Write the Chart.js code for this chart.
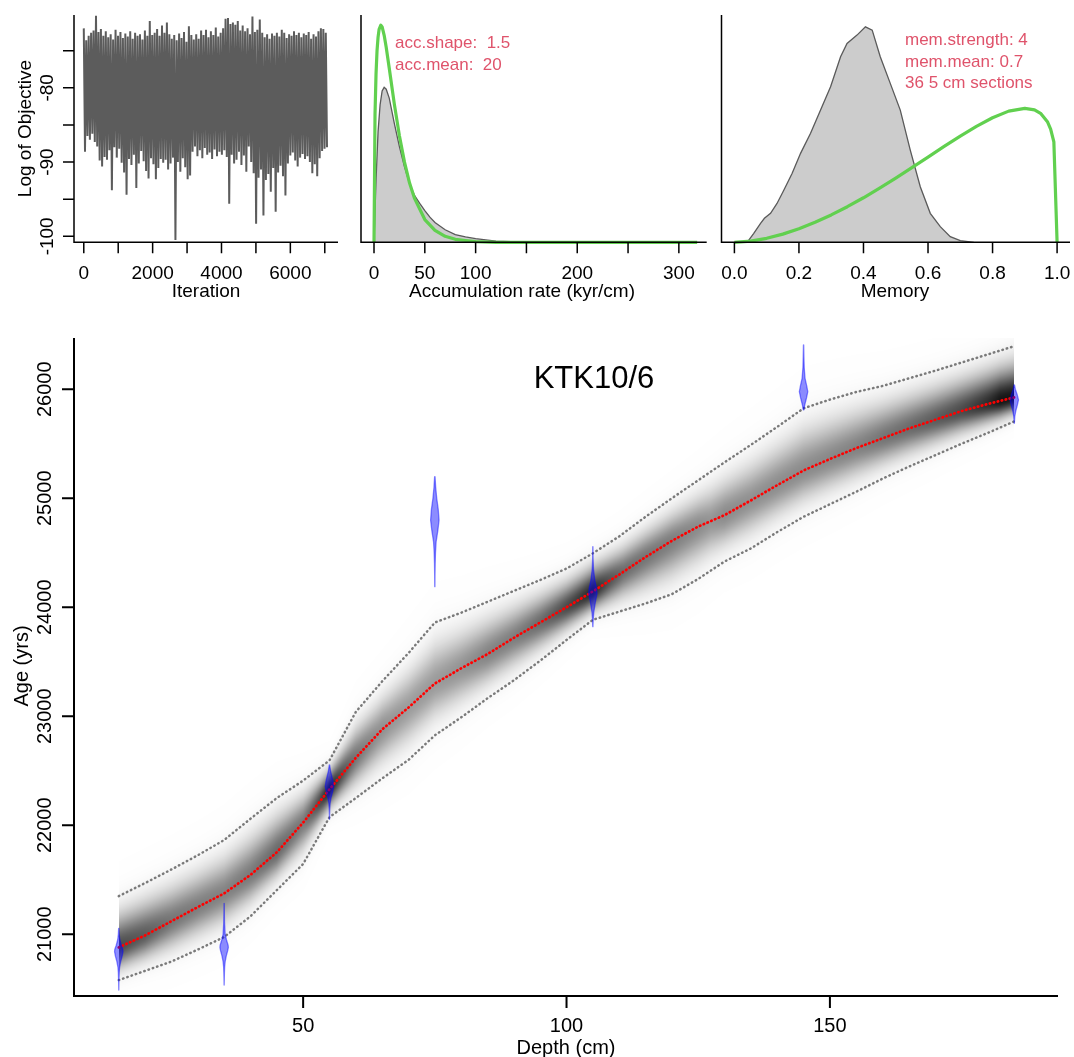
<!DOCTYPE html>
<html><head><meta charset="utf-8">
<script src="https://cdn.jsdelivr.net/npm/chart.js@4.4.0/dist/chart.umd.min.js"></script>
<style>
html,body{margin:0;padding:0;background:#fff;}
#wrap{position:relative;width:1074px;height:1057px;overflow:hidden;background:#fff;}
canvas{position:absolute;left:0;top:0;}
</style></head><body>
<div id="wrap">
<canvas id="c1" width="1074" height="1057"></canvas>
<canvas id="c2" width="1074" height="1057"></canvas>
<canvas id="c3" width="1074" height="1057"></canvas>
<canvas id="c4" width="1074" height="1057"></canvas>
</div>
<script>
// ---------------- DATA ----------------
// MCMC trace (per bin of iterations: highest and lowest log objective)
const traceStep = 71;
const traceHi = [-72.0,-73.6,-73.0,-72.6,-72.3,-70.3,-72.5,-72.1,-73.0,-72.4,
 -73.2,-72.8,-73.5,-72.2,-73.0,-72.5,-73.3,-72.7,-73.1,-72.4,
 -73.4,-72.6,-73.0,-72.8,-73.5,-72.3,-73.0,-71.0,-72.9,-72.6,
 -72.1,-73.0,-71.6,-72.6,-71.2,-72.8,-73.4,-72.9,-73.6,-72.7,
 -73.3,-72.5,-73.8,-71.7,-72.9,-73.5,-72.8,-73.4,-72.3,-72.9,
 -72.2,-73.2,-72.4,-72.9,-71.9,-73.1,-72.6,-72.0,-70.7,-70.6,
 -71.4,-71.2,-71.5,-71.0,-72.3,-71.6,-72.4,-72.0,-72.8,-70.4,
 -72.5,-72.2,-70.8,-72.6,-73.2,-72.8,-73.4,-72.7,-73.0,-72.6,
 -73.1,-72.2,-72.6,-73.3,-72.8,-73.0,-72.4,-72.9,-72.6,-73.2,
 -72.7,-72.9,-72.5,-73.4,-72.8,-73.1,-72.4,-72.0,-72.1,-72.6];
const traceLo = [-88.6,-86.5,-87.0,-86.2,-87.3,-87.9,-89.8,-90.6,-89.3,-89.7,
 -88.4,-93.8,-88.0,-89.4,-88.2,-90.1,-91.4,-94.4,-89.6,-90.4,
 -89.0,-93.5,-90.2,-88.5,-89.9,-91.2,-92.2,-89.5,-90.3,-92.3,
 -90.8,-89.6,-90.1,-89.7,-91.0,-90.2,-89.4,-100.5,-90.0,-91.3,
 -89.5,-90.7,-92.3,-91.8,-88.6,-87.9,-89.2,-88.4,-89.5,-88.1,
 -89.0,-88.7,-89.6,-88.3,-89.2,-88.6,-89.0,-88.4,-89.3,-95.6,
 -89.0,-90.2,-89.7,-88.6,-90.4,-89.1,-91.3,-87.9,-90.0,-91.5,
 -98.3,-92.1,-91.0,-97.2,-92.4,-91.6,-94.0,-90.8,-96.7,-91.4,
 -90.5,-91.9,-94.5,-90.2,-89.1,-88.7,-89.8,-90.6,-89.4,-88.9,
 -89.6,-89.2,-90.0,-91.5,-90.3,-91.9,-89.5,-88.5,-88.2,-88.0];

// Accumulation rate: posterior (grey) and prior (green)
const accPostX = [0,2,4,6,8,10,12,15,20,25,30,35,40,45,50,55,60,70,80,90,100,110,120,135,150];
const accPostY = [0,0.0105,0.0185,0.0230,0.0253,0.0259,0.0256,0.0241,0.0199,0.0160,0.0126,0.0098,0.0078,0.0065,0.0053,0.0042,0.0033,0.0021,0.0013,0.0009,0.0006,0.0004,0.0002,0.0001,0];
const accPriorX = [0,1,2,3,4,5,6.7,8,10,12,15,20,25,30,35,40,50,60,70,80,90,100,120,150,200,250,318];
const accPriorY = [0,0.0215,0.0282,0.0321,0.0343,0.0356,0.0363,0.0360,0.0346,0.0326,0.0291,0.0231,0.0178,0.0134,0.0099,0.0073,0.0038,0.0020,0.0010,0.0005,0.0003,0.0001,0,0,0,0,0];

// Memory: posterior (grey) and prior (green)
const memPostX = [0.044,0.060,0.081,0.093,0.112,0.132,0.153,0.179,0.205,0.236,0.267,0.298,0.329,0.349,0.380,0.406,0.427,0.452,0.483,0.514,0.545,0.576,0.607,0.638,0.669,0.700,0.742];
const memPostY = [0.03,0.137,0.288,0.364,0.44,0.59,0.79,1.047,1.35,1.654,2.007,2.36,2.816,3.019,3.145,3.271,3.221,2.816,2.412,2.007,1.40,0.844,0.44,0.237,0.085,0.024,0];
const memPriorX = [0,0.05,0.1,0.15,0.2,0.25,0.3,0.35,0.4,0.45,0.5,0.55,0.6,0.65,0.7,0.75,0.8,0.85,0.9,0.93,0.95,0.97,0.98,0.99,1.0];
const memPriorY = [0,0.0175,0.0604,0.124,0.2057,0.3035,0.4155,0.540,0.676,0.8215,0.974,1.133,1.294,1.455,1.612,1.760,1.890,1.991,2.033,2.010,1.952,1.830,1.718,1.523,0];

// Age-depth model
const depths   = [15,20,25,30,35,40,45,50,55,60,65,70,75,80,85,90,95,100,105,110,115,120,125,130,135,140,145,150,155,160,165,170,175,180,185];
const meanAge  = [20880,20990,21120,21250,21375,21545,21752,22025,22330,22620,22880,23080,23300,23440,23570,23720,23860,24000,24145,24300,24460,24610,24740,24845,24980,25120,25255,25360,25460,25550,25640,25720,25800,25865,25925];
const upperAge = [21350,21470,21595,21725,21865,22060,22250,22410,22595,23040,23320,23580,23860,23950,24050,24150,24250,24355,24495,24650,24830,25000,25165,25330,25490,25655,25825,25905,25975,26030,26100,26170,26245,26320,26395];
const lowerAge = [20580,20665,20750,20860,20975,21165,21405,21645,22075,22250,22430,22600,22825,22990,23165,23330,23510,23700,23885,23960,24035,24120,24260,24420,24540,24690,24830,24945,25060,25180,25290,25395,25500,25600,25705];

// Dated levels: calibrated age distributions
const dateDepths = [15,35,55,75,105,145,185];
const dateAges = [
 [21055,21000,20950,20900,20860,20840,20800,20750,20700,20650,20600,20550,20489],
 [21284,21200,21100,21000,20950,20900,20880,20850,20800,20750,20700,20650,20600,20535],
 [22553,22500,22450,22400,22354,22300,22250,22200,22150,22100,22055],
 [25198,25100,25000,24900,24800,24700,24600,24500,24400,24300,24189],
 [24556,24450,24350,24250,24180,24128,24050,23950,23880,23822],
 [26406,26300,26200,26100,26030,25978,25920,25860,25810],
 [26039,26000,25950,25902,25850,25800,25750,25688]
];
const dateProbs = [
 [0.03,0.1,0.25,0.6,0.95,1,0.8,0.45,0.2,0.1,0.06,0.03,0.01],
 [0.02,0.05,0.1,0.25,0.55,0.95,1,0.85,0.5,0.25,0.12,0.07,0.04,0.01],
 [0.05,0.25,0.55,0.85,1,0.7,0.35,0.15,0.07,0.03,0.01],
 [0.05,0.2,0.45,0.8,1,0.7,0.3,0.15,0.08,0.04,0.02],
 [0.02,0.05,0.15,0.45,0.85,1,0.6,0.2,0.07,0.02],
 [0.03,0.08,0.15,0.35,0.75,1,0.7,0.3,0.05],
 [0.05,0.25,0.7,1,0.7,0.35,0.12,0.02]
];

const coreName = 'KTK10/6';
const accText = ['acc.shape:  1.5', 'acc.mean:  20'];
const memText = ['mem.strength: 4', 'mem.mean: 0.7', '36 5 cm sections'];

// ---------------- RENDERING ----------------
const PW = 1074, PH = 1057;
const FONT = '"Liberation Sans", Arial, Helvetica, sans-serif';
const RED = '#DF536B', GREEN = '#61D04F';
const pts = (xs, ys) => xs.map((x, i) => ({x: x, y: ys[i]}));

function axisPlugin(cfg) {
  return {
    id: 'axes' + cfg.id,
    afterDraw(chart) {
      const ctx = chart.ctx, a = chart.chartArea, xs = chart.scales.x, ys = chart.scales.y;
      ctx.save();
      ctx.strokeStyle = '#000'; ctx.fillStyle = '#000';
      ctx.lineWidth = cfg.lw; ctx.lineCap = 'butt';
      ctx.beginPath();
      ctx.moveTo(a.left, a.top); ctx.lineTo(a.left, a.bottom); ctx.lineTo(a.right, a.bottom);
      ctx.stroke();
      ctx.beginPath();
      cfg.xTicks.forEach(v => { const p = xs.getPixelForValue(v); ctx.moveTo(p, a.bottom); ctx.lineTo(p, a.bottom + cfg.tick); });
      (cfg.yTicks || []).forEach(v => { const p = ys.getPixelForValue(v); ctx.moveTo(a.left, p); ctx.lineTo(a.left - cfg.tick, p); });
      ctx.stroke();
      ctx.font = cfg.font;
      ctx.textAlign = 'center'; ctx.textBaseline = 'middle';
      cfg.xLabels.forEach(v => ctx.fillText(cfg.fmtX(v), xs.getPixelForValue(v), cfg.xLabY));
      (cfg.yLabels || []).forEach(v => {
        const p = ys.getPixelForValue(v);
        ctx.save(); ctx.translate(cfg.yLabX, p); ctx.rotate(-Math.PI / 2);
        ctx.fillText(cfg.fmtY(v), 0, 0); ctx.restore();
      });
      ctx.textBaseline = 'alphabetic';
      ctx.fillText(cfg.xTitle, cfg.xTitleX, cfg.xTitleY);
      if (cfg.yTitle) {
        ctx.save(); ctx.translate(cfg.yTitleX, cfg.yTitleY); ctx.rotate(-Math.PI / 2);
        ctx.textBaseline = 'middle'; ctx.fillText(cfg.yTitle, 0, 0); ctx.restore();
      }
      ctx.restore();
    }
  };
}

function textPlugin(id, lines, x, ys, font, color, align) {
  return {
    id: 'txt' + id,
    afterDraw(chart) {
      const ctx = chart.ctx;
      ctx.save(); ctx.font = font; ctx.fillStyle = color; ctx.textAlign = align || 'left'; ctx.textBaseline = 'alphabetic';
      lines.forEach((t, i) => ctx.fillText(t, x, ys[i]));
      ctx.restore();
    }
  };
}

function makeChart(id, box, xr, yr, datasets, plugins) {
  return new Chart(document.getElementById(id), {
    type: 'line',
    data: { datasets: datasets },
    options: {
      responsive: false, maintainAspectRatio: false, animation: false, devicePixelRatio: 1,
      events: [],
      layout: { padding: { left: box.l, top: box.t, right: PW - box.r, bottom: PH - box.b } },
      scales: {
        x: { type: 'linear', display: false, min: xr[0], max: xr[1] },
        y: { type: 'linear', display: false, min: yr[0], max: yr[1] }
      },
      elements: { point: { radius: 0 }, line: { tension: 0 } },
      plugins: { legend: { display: false }, tooltip: { enabled: false } }
    },
    plugins: plugins
  });
}

const topFont = '19px ' + FONT;

// Panel 1: trace
const tracePts = [];
traceHi.forEach((h, i) => {
  tracePts.push({x: i * traceStep, y: h});
  tracePts.push({x: i * traceStep + traceStep / 2, y: traceLo[i]});
});
makeChart('c1', {l: 74, t: 15, r: 338, b: 242.3}, [-284, 7384], [-100.8, -70.2], [
  { data: tracePts, borderColor: '#5c5c5c', borderWidth: 2, pointRadius: 0, fill: false, clip: false, borderJoinStyle: 'miter' }
], [axisPlugin({ id: 1, lw: 1.5, tick: 11, font: topFont,
  xTicks: [0,1000,2000,3000,4000,5000,6000,7000], xLabels: [0,2000,4000,6000], fmtX: v => String(v), xLabY: 274,
  yTicks: [-100,-95,-90,-85,-80,-75], yLabels: [-100,-90,-80], fmtY: v => String(v), yLabX: 47.5,
  xTitle: 'Iteration', xTitleX: 206, xTitleY: 297,
  yTitle: 'Log of Objective', yTitleX: 26, yTitleY: 128.5 })]);

// Panel 2: accumulation rate
makeChart('c2', {l: 361, t: 15, r: 706.7, b: 242.3}, [-12.8, 327.4], [0, 0.038], [
  { data: pts(accPriorX, accPriorY), borderColor: GREEN, borderWidth: 3.2, fill: false, order: 1, clip: false, borderJoinStyle: 'round' },
  { data: pts(accPostX, accPostY), borderColor: '#5a5a5a', borderWidth: 1.3, backgroundColor: '#cccccc', fill: 'origin', order: 2, clip: false }
], [axisPlugin({ id: 2, lw: 1.5, tick: 11, font: topFont,
  xTicks: [0,50,100,150,200,250,300], xLabels: [0,50,100,200,300], fmtX: v => String(v), xLabY: 274,
  xTitle: 'Accumulation rate (kyr/cm)', xTitleX: 522, xTitleY: 297 }),
  textPlugin(2, accText, 395, [48, 70], '17px ' + FONT, RED)]);

// Panel 3: memory
makeChart('c3', {l: 721.5, t: 15, r: 1070, b: 242.3}, [-0.04, 1.04], [0, 3.45], [
  { data: pts(memPriorX, memPriorY), borderColor: GREEN, borderWidth: 3.2, fill: false, order: 1, clip: false, borderJoinStyle: 'round' },
  { data: pts(memPostX, memPostY), borderColor: '#5a5a5a', borderWidth: 1.3, backgroundColor: '#cccccc', fill: 'origin', order: 2, clip: false }
], [axisPlugin({ id: 3, lw: 1.5, tick: 11, font: topFont,
  xTicks: [0,0.2,0.4,0.6,0.8,1.0], xLabels: [0,0.2,0.4,0.6,0.8,1.0], fmtX: v => v.toFixed(1), xLabY: 274,
  xTitle: 'Memory', xTitleX: 895, xTitleY: 297 }),
  textPlugin(3, memText, 905, [45, 66.5, 88], '17px ' + FONT, RED)]);

// Panel 4: age-depth model
function interp(xa, ya, x) {
  if (x <= xa[0]) return ya[0];
  for (let i = 1; i < xa.length; i++) {
    if (x <= xa[i]) { const t = (x - xa[i-1]) / (xa[i] - xa[i-1]); return ya[i-1] + t * (ya[i] - ya[i-1]); }
  }
  return ya[ya.length - 1];
}

const cloudPlugin = {
  id: 'cloud',
  beforeDatasetsDraw(chart) {
    const ctx = chart.ctx, a = chart.chartArea, xs = chart.scales.x, ys = chart.scales.y;
    const x0 = Math.round(xs.getPixelForValue(depths[0]));
    const x1 = Math.round(xs.getPixelForValue(depths[depths.length - 1]));
    const top = Math.round(a.top), bot = Math.round(a.bottom);
    const w = x1 - x0, h = bot - top;
    const off = document.createElement('canvas'); off.width = w; off.height = h;
    const octx = off.getContext('2d');
    const img = octx.createImageData(w, h);
    const rowAge = [];
    for (let j = 0; j < h; j++) rowAge.push(ys.getValueForPixel(top + j + 0.5));
    for (let i = 0; i < w; i++) {
      const d = xs.getValueForPixel(x0 + i + 0.5);
      const m = interp(depths, meanAge, d), hi = interp(depths, upperAge, d), lo = interp(depths, lowerAge, d);
      const sdU = (hi - m) / 2.45, sdL = (m - lo) / 2.45;
      const minHalf = Math.min(hi - m, m - lo);
      const dark = Math.min(0.9, Math.pow(225 / minHalf, 1.3));
      for (let j = 0; j < h; j++) {
        const ag = rowAge[j];
        const z = ag > m ? (ag - m) / sdU : (m - ag) / sdL;
        if (z > 4.5) continue;
        const v = dark * Math.exp(-0.5 * z * z) + 0.015 * Math.exp(-0.5 * z * z / 4);
        const k = (j * w + i) * 4;
        img.data[k] = 0; img.data[k+1] = 0; img.data[k+2] = 0; img.data[k+3] = Math.round(255 * Math.min(1, v));
      }
    }
    octx.putImageData(img, 0, 0);
    ctx.drawImage(off, x0, top);
  }
};

const VIOLIN_HALF = 0.8; // half width (cm) at peak density
const violinPlugin = {
  id: 'violins',
  afterDatasetsDraw(chart) {
    const ctx = chart.ctx, xs = chart.scales.x, ys = chart.scales.y;
    ctx.save();
    ctx.fillStyle = 'rgba(0,0,255,0.45)';
    ctx.strokeStyle = 'rgba(0,0,255,0.45)';
    ctx.lineWidth = 1.3; ctx.lineJoin = 'round';
    dateDepths.forEach((dp, k) => {
      const ages = dateAges[k], pr = dateProbs[k];
      ctx.beginPath();
      ages.forEach((ag, i) => {
        const x = xs.getPixelForValue(dp + pr[i] * VIOLIN_HALF), y = ys.getPixelForValue(ag);
        if (i === 0) ctx.moveTo(x, y); else ctx.lineTo(x, y);
      });
      for (let i = ages.length - 1; i >= 0; i--) {
        ctx.lineTo(xs.getPixelForValue(dp - pr[i] * VIOLIN_HALF), ys.getPixelForValue(ages[i]));
      }
      ctx.closePath(); ctx.fill(); ctx.stroke();
    });
    ctx.restore();
  }
};

makeChart('c4', {l: 74, t: 338, r: 1058, b: 996}, [6.5, 193.3], [20434, 26470], [
  { data: pts(depths, meanAge), borderColor: '#ff0000', borderWidth: 2.7, borderDash: [0.5, 3.6], borderCapStyle: 'round', fill: false, order: 1 },
  { data: pts(depths, upperAge), borderColor: '#7a7a7a', borderWidth: 2.5, borderDash: [0.5, 4.0], borderCapStyle: 'round', fill: false, order: 2 },
  { data: pts(depths, lowerAge), borderColor: '#7a7a7a', borderWidth: 2.5, borderDash: [0.5, 4.0], borderCapStyle: 'round', fill: false, order: 3 }
], [cloudPlugin, violinPlugin, axisPlugin({ id: 4, lw: 2, tick: 12, font: '20px ' + FONT,
  xTicks: [50,100,150], xLabels: [50,100,150], fmtX: v => String(v), xLabY: 1026,
  yTicks: [21000,22000,23000,24000,25000,26000], yLabels: [21000,22000,23000,24000,25000,26000], fmtY: v => String(v), yLabX: 45,
  xTitle: 'Depth (cm)', xTitleX: 566, xTitleY: 1054,
  yTitle: 'Age (yrs)', yTitleX: 22, yTitleY: 666 }),
  textPlugin(4, [coreName], 594, [388], '31px ' + FONT, '#000', 'center')]);
</script>
</body></html>
